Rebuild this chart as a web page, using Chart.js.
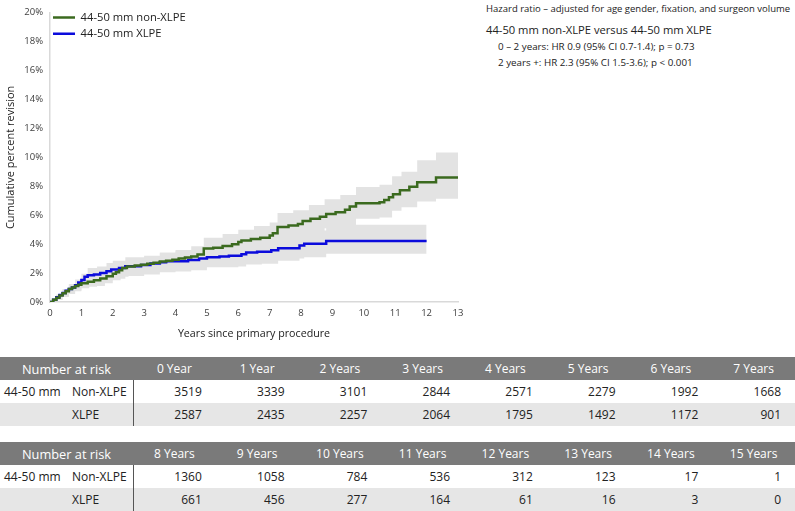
<!DOCTYPE html>
<html>
<head>
<meta charset="utf-8">
<script src="https://cdn.jsdelivr.net/npm/chart.js@4.4.0/dist/chart.umd.min.js"></script>
<style>
  html,body{margin:0;padding:0;background:#fff;}
  body{width:795px;height:511px;position:relative;overflow:hidden;font-family:"Open Sans",sans-serif;}
  #cw{position:absolute;left:0;top:0;width:470px;height:344px;}
  .note{position:absolute;white-space:nowrap;color:#222;line-height:1;}
  table.risk{position:absolute;left:0;width:795px;border-collapse:collapse;table-layout:fixed;font-size:12px;color:#222;}
  table.risk td{padding:0;white-space:nowrap;overflow:hidden;}
  table.risk tr.hd td{background:#7a7a7a;color:#fff;text-align:center;height:23px;}
  table.risk tr.hd td.first{font-size:12.8px;}
  table.risk tr.r1 td{background:#fff;height:23px;}
  table.risk tr.r2 td{background:#e6e6e6;height:23px;}
  table.risk td.num{text-align:right;padding-right:14px;}
  table.risk td.lab{border-right:1.5px solid #555;}
</style>
</head>
<body>
<div id="cw"><canvas id="c"></canvas></div>

<div class="note" style="left:486px;top:4px;font-size:9.5px;">Hazard ratio – adjusted for age gender, fixation, and surgeon volume</div>
<div class="note" style="left:486px;top:24px;font-size:11.2px;">44-50 mm non-XLPE versus 44-50 mm XLPE</div>
<div class="note" style="left:498px;top:42px;font-size:9.8px;">0 – 2 years: HR 0.9 (95% CI 0.7-1.4); p = 0.73</div>
<div class="note" style="left:498px;top:58px;font-size:9.8px;">2 years +: HR 2.3 (95% CI 1.5-3.6); p &lt; 0.001</div>

<div id="tables"></div>

<script>
// ---- Kaplan-Meier style curves (years, cumulative percent revision) ----
const nonXlpeYears = [0,0.1,0.2,0.3,0.4,0.5,0.6,0.7,0.8,0.9,1.0,1.2,1.4,1.6,1.8,2.0,2.1,2.2,2.3,2.45,2.7,2.9,3.1,3.3,3.5,3.7,3.9,4.1,4.3,4.5,4.7,4.9,5.2,5.5,5.8,6.0,6.1,6.4,6.7,7.0,7.1,7.25,7.6,7.9,8.05,8.3,8.6,8.8,9.1,9.4,9.55,9.75,10.5,10.65,10.8,10.93,11.15,11.45,11.7,12.3,13.0];
const nonXlpePct   = [0,0.15,0.3,0.45,0.6,0.75,0.9,1.0,1.1,1.2,1.3,1.4,1.5,1.62,1.78,1.95,2.05,2.2,2.35,2.45,2.52,2.58,2.64,2.72,2.8,2.86,2.92,3.0,3.07,3.15,3.28,3.69,3.75,3.88,4.0,4.15,4.26,4.35,4.45,4.6,4.75,5.18,5.28,5.4,5.6,5.75,5.9,6.08,6.2,6.38,6.6,6.82,6.9,7.05,7.25,7.45,7.72,7.97,8.27,8.6,8.6];

const xlpeYears = [0,0.1,0.2,0.3,0.4,0.5,0.6,0.7,0.8,0.9,1.0,1.1,1.2,1.4,1.6,1.8,1.95,2.2,2.4,2.9,3.2,3.5,3.7,4.4,4.75,5.0,5.4,5.7,6.1,6.25,6.6,7.05,7.27,7.95,8.1,8.8,12.0];
const xlpePct   = [0,0.15,0.32,0.48,0.62,0.77,0.9,1.0,1.15,1.35,1.52,1.75,1.85,1.9,2.0,2.12,2.25,2.35,2.47,2.55,2.66,2.75,2.82,2.9,3.0,3.1,3.15,3.2,3.3,3.42,3.48,3.57,3.72,3.9,4.02,4.21,4.21];

// ---- 95% confidence bands ----
const nonXlpeBandYears = [0,0.2,0.4,0.6,0.8,1.0,1.25,1.5,1.75,2.0,2.25,2.5,3.0,3.5,4.0,4.5,4.9,5.5,6.0,6.5,7.0,7.25,7.75,8.25,8.75,9.25,9.75,10.5,10.9,11.2,11.7,12.3,13];
const nonXlpeUpper = [0,0.5,0.85,1.2,1.45,1.65,1.8,1.9,2.15,2.45,2.7,2.95,3.15,3.4,3.6,3.85,4.45,4.7,5.0,5.25,5.5,6.15,6.35,6.7,7.1,7.4,7.95,8.1,8.7,9.0,9.8,10.33,10.33];
const nonXlpeLower = [0,0.15,0.4,0.65,0.8,0.95,1.05,1.1,1.3,1.5,1.75,1.95,2.05,2.25,2.4,2.55,3.0,3.15,3.4,3.55,3.8,4.3,4.45,4.8,5.1,5.3,5.75,5.85,6.3,6.55,6.95,7.13,7.13];

const xlpeBandYears = [0,0.2,0.4,0.6,0.8,1.0,1.2,1.5,1.8,2.0,2.4,3.0,3.5,4.0,4.5,5.0,5.5,6.0,6.25,6.75,7.27,7.95,8.1,8.8,12];
const xlpeUpper = [0,0.5,0.9,1.25,1.55,1.95,2.35,2.45,2.7,2.85,3.1,3.2,3.4,3.5,3.6,3.8,3.9,4.0,4.25,4.3,4.6,4.8,4.95,5.34,5.34];
const xlpeLower = [0,0.15,0.35,0.55,0.75,1.0,1.3,1.35,1.5,1.6,1.8,1.9,2.05,2.1,2.2,2.4,2.4,2.45,2.6,2.65,2.85,3.0,3.1,3.34,3.34];

// ---- Number at risk ----
const riskYearLabels = ['0 Year','1 Year','2 Years','3 Years','4 Years','5 Years','6 Years','7 Years','8 Years','9 Years','10 Years','11 Years','12 Years','13 Years','14 Years','15 Years'];
const riskNonXlpe = [3519,3339,3101,2844,2571,2279,1992,1668,1360,1058,784,536,312,123,17,1];
const riskXlpe    = [2587,2435,2257,2064,1795,1492,1172,901,661,456,277,164,61,16,3,0];

const seriesNames = ['44-50 mm non-XLPE','44-50 mm XLPE'];

function xy(xs, ys){ return xs.map((x,i)=>({x:x, y:ys[i]})); }

Chart.defaults.font.family = '"Open Sans", sans-serif';
Chart.defaults.color = '#404040';

// nudge the in-plot legend to the reference position
const legendNudge = {
  id: 'legendNudge',
  beforeDraw(chart){
    const lg = chart.legend;
    if (lg && !lg._nudged){ lg.top += 7; lg.bottom += 7; lg.left -= 2; lg.right -= 2; lg._nudged = true; }
  }
};

const band = '#e3e3e3';
new Chart(document.getElementById('c'), {
  type: 'line',
  data: {
    datasets: [
      {label: seriesNames[0], data: xy(nonXlpeYears, nonXlpePct), borderColor:'#3b6a1f', backgroundColor:'#3b6a1f', borderWidth:2.5, stepped:true, pointRadius:0, fill:false, order:0},
      {label: seriesNames[1], data: xy(xlpeYears, xlpePct), borderColor:'#0b0bdc', backgroundColor:'#0b0bdc', borderWidth:2.5, stepped:true, pointRadius:0, fill:false, order:1},
      {label: 'band', data: xy(nonXlpeBandYears, nonXlpeUpper), borderColor:'rgba(0,0,0,0)', backgroundColor:band, borderWidth:0, stepped:true, pointRadius:0, fill:'+1', order:2},
      {label: 'band', data: xy(nonXlpeBandYears, nonXlpeLower), borderColor:'rgba(0,0,0,0)', borderWidth:0, stepped:true, pointRadius:0, fill:false, order:3},
      {label: 'band', data: xy(xlpeBandYears, xlpeUpper), borderColor:'rgba(0,0,0,0)', backgroundColor:band, borderWidth:0, stepped:true, pointRadius:0, fill:'+1', order:4},
      {label: 'band', data: xy(xlpeBandYears, xlpeLower), borderColor:'rgba(0,0,0,0)', borderWidth:0, stepped:true, pointRadius:0, fill:false, order:5}
    ]
  },
  options: {
    responsive: true,
    maintainAspectRatio: false,
    animation: false,
    layout: {padding: {top: 11, right: 12, left: 0, bottom: 0}},
    plugins: {
      tooltip: {enabled:false},
      legend: {
        position: 'chartArea',
        align: 'start',
        labels: {
          filter: (item) => item.datasetIndex < 2,
          usePointStyle: true,
          pointStyle: 'line',
          pointStyleWidth: 22,
          boxWidth: 22,
          padding: 5,
          color: '#222',
          font: {size: 11.2}
        }
      }
    },
    scales: {
      x: {
        type: 'linear', min: 0, max: 13,
        ticks: {stepSize: 1, padding: 6, font:{size:9.5}, color:'#404040'},
        grid: {display:false, drawTicks:false},
        border: {display:true, color:'#d9d9d9', width:1.5},
        title: {display:true, text:'Years since primary procedure', font:{size:10.7}, color:'#222'},
        afterFit: (s) => { s.height = 42; }
      },
      y: {
        min: 0, max: 20,
        ticks: {stepSize: 2, padding: 7, font:{size:9.5}, color:'#404040', callback: (v) => v + '%'},
        grid: {display:false, drawTicks:false},
        border: {display:true, color:'#d9d9d9', width:1.5},
        title: {display:true, text:'Cumulative percent revision', font:{size:11}, color:'#222'},
        afterFit: (s) => { s.width = 50; }
      }
    }
  },
  plugins: [legendNudge]
});

// ---- build the number-at-risk tables ----
function buildTable(top, start){
  const t = document.createElement('table');
  t.className = 'risk';
  t.style.top = top + 'px';
  let cg = '<colgroup><col style="width:133px">';
  for (let i=0;i<8;i++) cg += '<col style="width:82.75px">';
  cg += '</colgroup>';
  let h = '<tr class="hd"><td class="first">Number at risk</td>';
  let r1 = '<tr class="r1"><td class="lab" style="padding-left:4px"><span style="display:inline-block;width:68px">44-50 mm</span>Non-XLPE</td>';
  let r2 = '<tr class="r2"><td class="lab" style="padding-left:72px">XLPE</td>';
  for (let i=start;i<start+8;i++){
    h += '<td>' + riskYearLabels[i] + '</td>';
    r1 += '<td class="num">' + riskNonXlpe[i] + '</td>';
    r2 += '<td class="num">' + riskXlpe[i] + '</td>';
  }
  t.innerHTML = cg + h + '</tr>' + r1 + '</tr>' + r2 + '</tr>';
  document.getElementById('tables').appendChild(t);
}
buildTable(357, 0);
buildTable(442, 8);
</script>
</body>
</html>
